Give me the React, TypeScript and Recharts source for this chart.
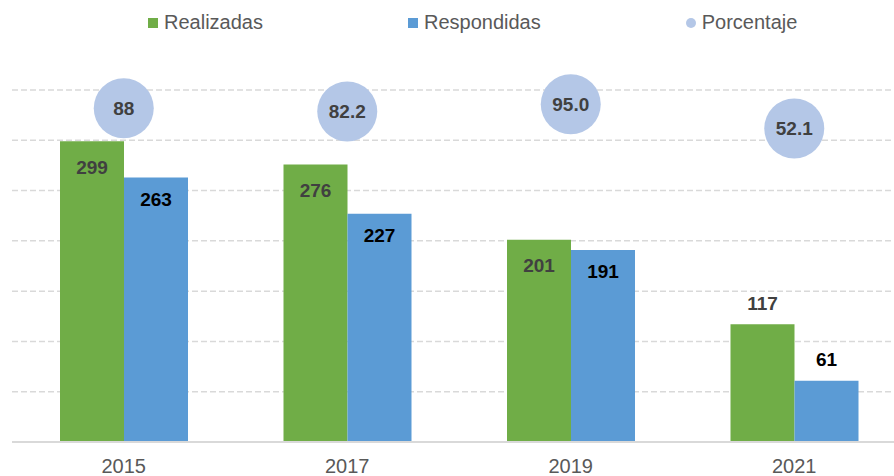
import React from "react";
import {
  ComposedChart,
  Bar,
  Scatter,
  XAxis,
  YAxis,
  CartesianGrid,
  LabelList,
} from "recharts";

const years = ["2015", "2017", "2019", "2021"];
const realizadas = [299, 276, 201, 117];
const respondidas = [263, 227, 191, 61];
const porcentaje = [88, 82.2, 95.0, 52.1];
const porcentajeLabels = ["88", "82.2", "95.0", "52.1"];
const countTicks = [0, 50, 100, 150, 200, 250, 300, 350];

const data = years.map((year, i) => ({
  year,
  realizadas: realizadas[i],
  respondidas: respondidas[i],
  porcentaje: porcentaje[i],
  porcentajeLabel: porcentajeLabels[i],
}));

const FONT = "'Liberation Sans', Arial, sans-serif";
const GREEN = "#70ad47";
const BLUE = "#5b9bd5";
const CIRCLE = "#b4c7e7";

const legendItems = [
  { name: "Realizadas", color: GREEN, round: false },
  { name: "Respondidas", color: BLUE, round: false },
  { name: "Porcentaje", color: CIRCLE, round: true },
];

// value labels: inside the bar near the top, above it when the bar is short
const makeBarLabel = (color: string, insideOffset: number) => (props: any) => {
  const { x, y, width, height, value } = props;
  const outside = height < 140;
  const cy = outside ? y - 21 : y + insideOffset;
  return (
    <text
      x={x + width / 2}
      y={cy}
      textAnchor="middle"
      dominantBaseline="central"
      fill={color}
      fontFamily={FONT}
      fontWeight="bold"
      fontSize={19}
    >
      {value}
    </text>
  );
};

const PercentBubble = (props: any) => {
  const { cx, cy, payload } = props;
  return (
    <g>
      <circle cx={cx} cy={cy} r={30} fill={CIRCLE} />
      <text
        x={cx}
        y={cy}
        textAnchor="middle"
        dominantBaseline="central"
        fill="#404040"
        fontFamily={FONT}
        fontWeight="bold"
        fontSize={19}
      >
        {payload.porcentajeLabel}
      </text>
    </g>
  );
};

const App = () => {
  return (
    <div
      style={{
        position: "absolute",
        left: 0,
        top: 0,
        width: 894,
        height: 476,
        overflow: "hidden",
        background: "#fff",
      }}
    >
      <div
        style={{
          position: "absolute",
          top: 11,
          left: 148,
          display: "flex",
          gap: 145,
          fontFamily: FONT,
          fontSize: 20,
          color: "#595959",
          zIndex: 2,
        }}
      >
        {legendItems.map((item) => (
          <div key={item.name} style={{ display: "flex", alignItems: "center" }}>
            <span
              style={{
                display: "inline-block",
                width: 10,
                height: 10,
                background: item.color,
                borderRadius: item.round ? "50%" : 0,
                marginRight: 6,
              }}
            />
            <span>{item.name}</span>
          </div>
        ))}
      </div>
      <ComposedChart
        width={910}
        height={476}
        data={data}
        margin={{ top: 90, right: 4, bottom: 0, left: 12 }}
        barGap={0}
        barSize={64}
      >
        <CartesianGrid
          yAxisId="left"
          vertical={false}
          stroke="#d9d9d9"
          strokeWidth={1.5}
          strokeDasharray="6 3"
        />
        <XAxis
          dataKey="year"
          height={34}
          tickLine={false}
          axisLine={{ stroke: "#d9d9d9", strokeWidth: 2 }}
          tick={{ fill: "#595959", fontSize: 20, fontFamily: FONT }}
          tickMargin={11}
        />
        <YAxis yAxisId="left" hide domain={[0, 350]} ticks={countTicks} />
        <YAxis yAxisId="right" hide domain={[-500, 120]} />
        <Bar yAxisId="left" dataKey="realizadas" fill={GREEN} isAnimationActive={false}>
          <LabelList dataKey="realizadas" content={makeBarLabel("#404040", 26)} />
        </Bar>
        <Bar yAxisId="left" dataKey="respondidas" fill={BLUE} isAnimationActive={false}>
          <LabelList dataKey="respondidas" content={makeBarLabel("#000000", 22)} />
        </Bar>
        <Scatter
          yAxisId="right"
          dataKey="porcentaje"
          shape={PercentBubble}
          isAnimationActive={false}
        />
      </ComposedChart>
    </div>
  );
};

export default App;
